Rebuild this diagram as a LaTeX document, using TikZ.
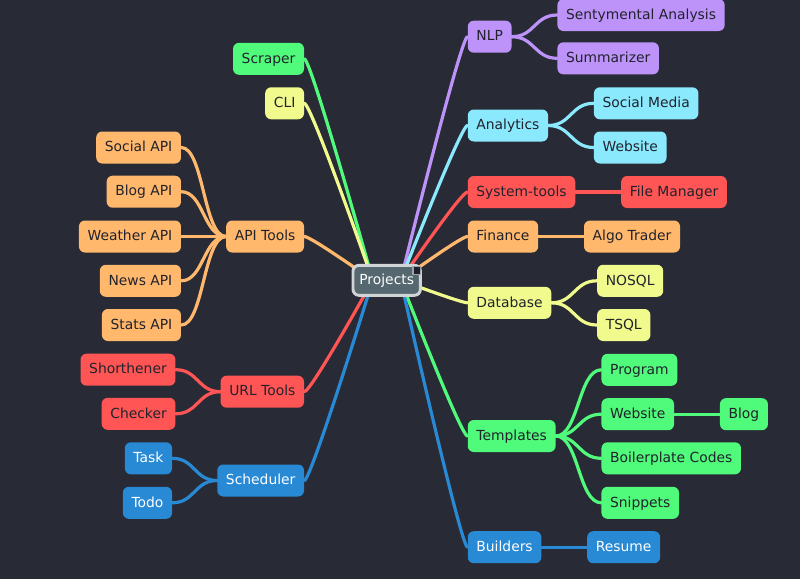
\documentclass[tikz,border=0pt]{standalone}
\usepackage{fontspec}
\setmainfont{DejaVu Sans}
\usetikzlibrary{calc}
\pgfdeclarelayer{background}
\pgfsetlayers{background,main}
\definecolor{bgc}{HTML}{282A36}
\definecolor{darktxt}{HTML}{21222C}
\definecolor{cpurple}{HTML}{BD93F9}
\definecolor{ccyan}{HTML}{8BE9FD}
\definecolor{cred}{HTML}{FF5555}
\definecolor{corange}{HTML}{FFB86C}
\definecolor{cyellow}{HTML}{F1FA8C}
\definecolor{cgreen}{HTML}{50FA7B}
\definecolor{cblue}{HTML}{2889D4}
\definecolor{rootfill}{HTML}{56686F}
\definecolor{rootborder}{HTML}{D0D4D6}
\definecolor{foldf}{HTML}{1E1F28}
\definecolor{foldb}{HTML}{9DA3A6}
\begin{document}
\begin{tikzpicture}[x=0.75pt,y=-0.75pt,
  box/.style={rounded corners=4.5pt, font=\fontsize{10.4}{12.5}\selectfont, text=darktxt,
    minimum height=24pt, inner xsep=6.5pt, inner ysep=0pt, text height=7.6pt, text depth=1.2pt},
  rb/.style={box, anchor=west},
  lb/.style={box, anchor=east},
  rc/.style={box, anchor=west, xshift=34pt},
  lc/.style={box, anchor=east, xshift=-33.5pt},
  pu/.style={fill=cpurple}, cy/.style={fill=ccyan}, re/.style={fill=cred},
  ora/.style={fill=corange}, ye/.style={fill=cyellow}, gr/.style={fill=cgreen},
  bl/.style={fill=cblue, text=white},
  rootbox/.style={rounded corners=4.5pt, font=\fontsize{10.4}{12.5}\selectfont, text=white,
    fill=rootfill, draw=rootborder, line width=2.2pt, minimum height=22.5pt,
    inner xsep=4.8pt, inner ysep=0pt, text height=7.6pt, text depth=1.2pt},
  edgeline/.style={line width=2.4pt, line cap=round},
  mb/.style={edgeline, to path={let \p1=(\tikztostart), \p2=(\tikztotarget) in
    (\p1) .. controls (\p1) and ({\x2+0.1*(\x1-\x2)},\y2) .. (\p2)}},
  sb/.style={edgeline, to path={let \p1=(\tikztostart), \p2=(\tikztotarget) in
    (\p1) .. controls ({(\x1+\x2)/2},\y1) and ({(\x1+\x2)/2},\y2) .. (\p2)}}
]
\useasboundingbox (0,0) rectangle (800,579);

% root
\node[rootbox] (root) at (386.7,280.3) {Projects};
\node[draw=foldb, fill=foldf, line width=0.9pt, minimum size=5.5pt, inner sep=0pt] (fold) at (416.7,270.5) {};
\coordinate (rs) at (400.7,280.3);
\coordinate (ls) at (372.7,280.3);

% right side
\node[rb,pu] (nlp) at (467.5,36.7) {NLP};
\node[rc,pu] (senty) at (nlp.east |- 0,15) {Sentymental Analysis};
\node[rc,pu] (summ) at (nlp.east |- 0,58.3) {Summarizer};

\node[rb,cy] (ana) at (467.5,125.5) {Analytics};
\node[rc,cy] (soc) at (ana.east |- 0,103.3) {Social Media};
\node[rc,cy] (web) at (ana.east |- 0,147.5) {Website};

\node[rb,re] (sys) at (467.5,192) {System-tools};
\node[rc,re] (fm) at (sys.east |- 0,192) {File Manager};

\node[rb,ora] (fin) at (467.5,236.5) {Finance};
\node[rc,ora] (algo) at (fin.east |- 0,236.5) {Algo Trader};

\node[rb,ye] (db) at (467.5,302.8) {Database};
\node[rc,ye] (nosql) at (db.east |- 0,280.8) {NOSQL};
\node[rc,ye] (tsql) at (db.east |- 0,325) {TSQL};

\node[rb,gr] (tmpl) at (467.5,436) {Templates};
\node[rc,gr] (prog) at (tmpl.east |- 0,369.8) {Program};
\node[rc,gr] (tweb) at (tmpl.east |- 0,414.2) {Website};
\node[rc,gr] (blog) at (tweb.east |- 0,414.2) {Blog};
\node[rc,gr] (boil) at (tmpl.east |- 0,458.3) {Boilerplate Codes};
\node[rc,gr] (snip) at (tmpl.east |- 0,502.8) {Snippets};

\node[rb,bl] (bld) at (467.5,547.2) {Builders};
\node[rc,bl] (res) at (bld.east |- 0,547.2) {Resume};

% left side
\node[lb,gr] (scr) at (304.3,58.8) {Scraper};
\node[lb,ye] (cli) at (304.3,103.3) {CLI};

\node[lb,ora] (api) at (304.3,236.5) {API Tools};
\node[lc,ora] (sapi) at (api.west |- 0,147.5) {Social API};
\node[lc,ora] (bapi) at (api.west |- 0,191.7) {Blog API};
\node[lc,ora] (wapi) at (api.west |- 0,236.5) {Weather API};
\node[lc,ora] (napi) at (api.west |- 0,280.8) {News API};
\node[lc,ora] (stapi) at (api.west |- 0,325) {Stats API};

\node[lb,re] (url) at (304.3,391.7) {URL Tools};
\node[lc,re] (shr) at (url.west |- 0,369.7) {Shorthener};
\node[lc,re] (chk) at (url.west |- 0,413.8) {Checker};

\node[lb,bl] (sch) at (304.3,480.5) {Scheduler};
\node[lc,bl] (task) at (sch.west |- 0,458.3) {Task};
\node[lc,bl] (todo) at (sch.west |- 0,502.8) {Todo};

\begin{pgfonlayer}{background}
\fill[bgc] (0,0) rectangle (800,579);
% main branches
\draw[mb,cpurple] (rs) to (nlp.west);
\draw[mb,ccyan] (rs) to (ana.west);
\draw[mb,cred] (rs) to (sys.west);
\draw[mb,corange] (rs) to (fin.west);
\draw[mb,cyellow] (rs) to (db.west);
\draw[mb,cgreen] (rs) to (tmpl.west);
\draw[mb,cblue] (rs) to (bld.west);
\draw[mb,cgreen] (ls) to (scr.east);
\draw[mb,cyellow] (ls) to (cli.east);
\draw[mb,corange] (ls) to (api.east);
\draw[mb,cred] (ls) to (url.east);
\draw[mb,cblue] (ls) to (sch.east);
% sub branches
\draw[sb,cpurple] (nlp.east) to (senty.west);
\draw[sb,cpurple] (nlp.east) to (summ.west);
\draw[sb,ccyan] (ana.east) to (soc.west);
\draw[sb,ccyan] (ana.east) to (web.west);
\draw[sb,cred] (sys.east) to (fm.west);
\draw[sb,corange] (fin.east) to (algo.west);
\draw[sb,cyellow] (db.east) to (nosql.west);
\draw[sb,cyellow] (db.east) to (tsql.west);
\draw[sb,cgreen] (tmpl.east) to (prog.west);
\draw[sb,cgreen] (tmpl.east) to (tweb.west);
\draw[sb,cgreen] (tweb.east) to (blog.west);
\draw[sb,cgreen] (tmpl.east) to (boil.west);
\draw[sb,cgreen] (tmpl.east) to (snip.west);
\draw[sb,cblue] (bld.east) to (res.west);
\draw[sb,corange] (api.west) to (sapi.east);
\draw[sb,corange] (api.west) to (bapi.east);
\draw[sb,corange] (api.west) to (wapi.east);
\draw[sb,corange] (api.west) to (napi.east);
\draw[sb,corange] (api.west) to (stapi.east);
\draw[sb,cred] (url.west) to (shr.east);
\draw[sb,cred] (url.west) to (chk.east);
\draw[sb,cblue] (sch.west) to (task.east);
\draw[sb,cblue] (sch.west) to (todo.east);
\end{pgfonlayer}
\end{tikzpicture}
\end{document}
